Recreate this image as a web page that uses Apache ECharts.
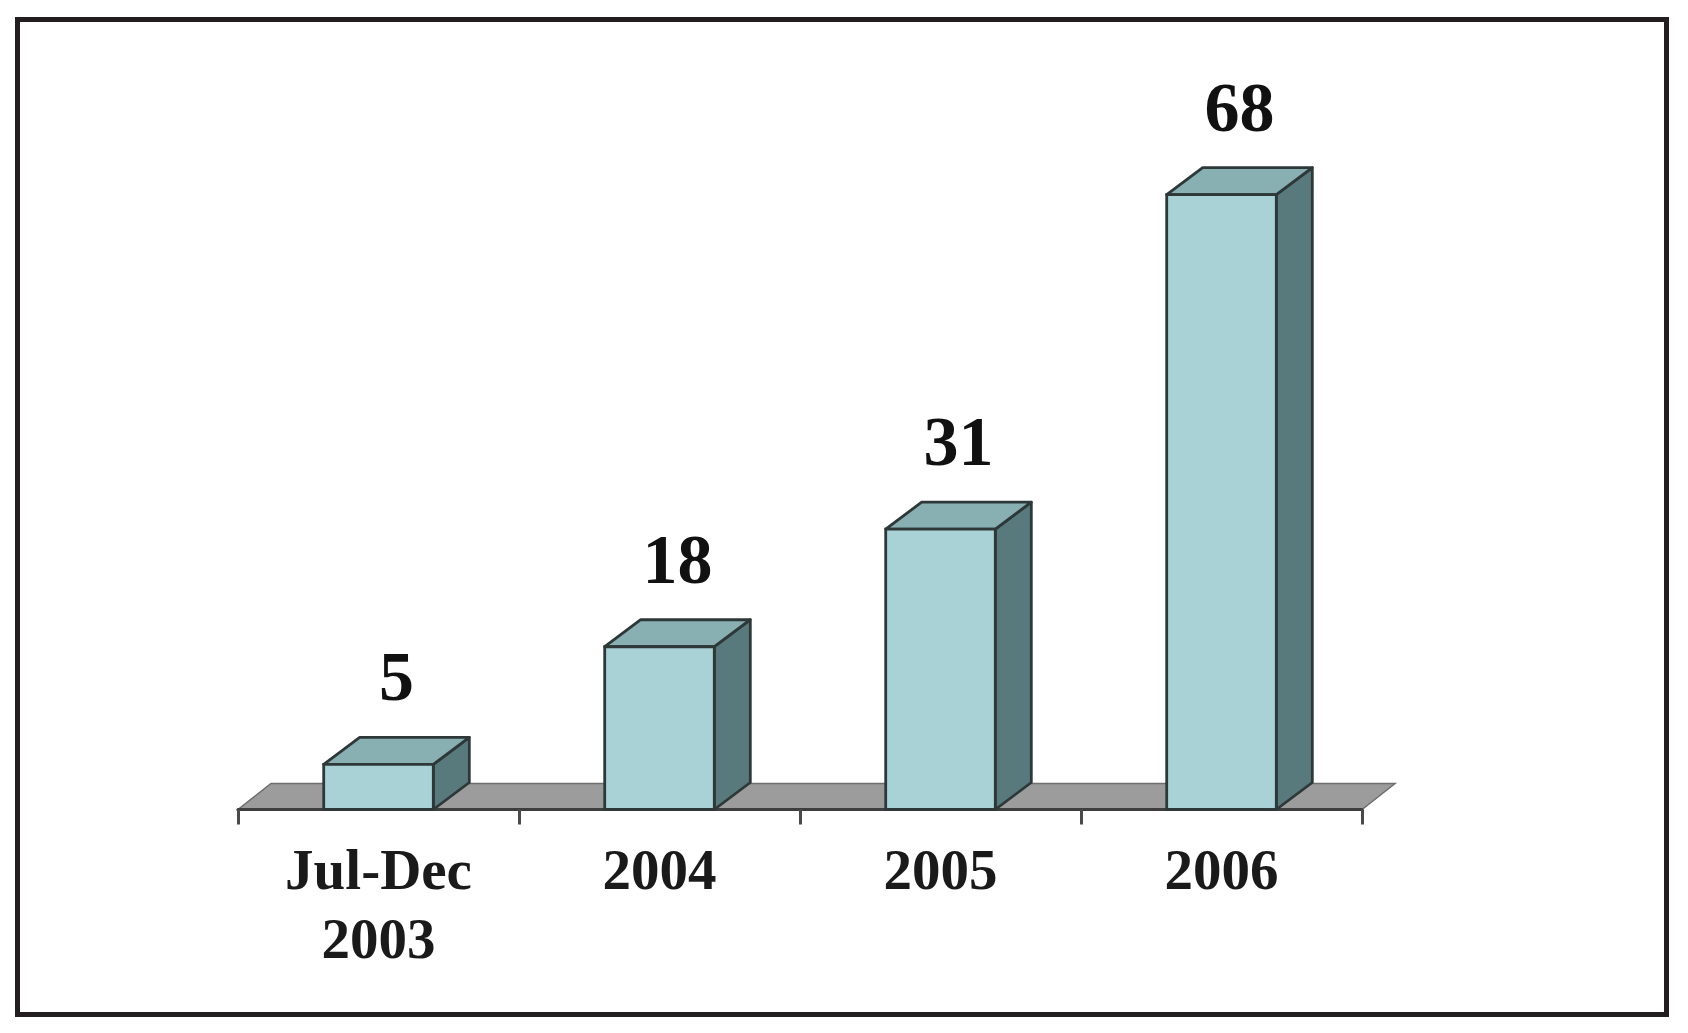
<!DOCTYPE html>
<html>
<head>
<meta charset="utf-8">
<style>
  html, body { margin: 0; padding: 0; background: #ffffff; }
  #chart { width: 1688px; height: 1033px; }
</style>
<script src="https://cdn.jsdelivr.net/npm/echarts@6/dist/echarts.min.js"></script>
</head>
<body>
<div id="chart"></div>
<script>
// ---- Data ----
const categories = ['Jul-Dec\n2003', '2004', '2005', '2006'];
const values = [5, 18, 31, 68];

// ---- Style constants ----
const FRONT = '#a8d2d6';
const TOP = '#88b0b3';
const SIDE = '#587a7d';
const EDGE = '#2e3838';
const FLOOR = '#9c9c9c';
const DEPTH_X = 36, DEPTH_Y = 27;
const FLOOR_DX = 33, FLOOR_DY = 26;

const chart = echarts.init(document.getElementById('chart'), null, { renderer: 'canvas' });

function renderFloor(params, api) {
  const cs = params.coordSys;
  const y0 = api.coord([0, 0])[1];
  const xl = cs.x, xr = cs.x + cs.width;
  return {
    type: 'polygon',
    shape: { points: [[xl, y0], [xr, y0], [xr + FLOOR_DX, y0 - FLOOR_DY], [xl + FLOOR_DX, y0 - FLOOR_DY]] },
    style: { fill: FLOOR, stroke: '#6e6e6e', lineWidth: 1.5 },
    z2: 0
  };
}

function renderBar(params, api) {
  const idx = api.value(0);
  const v = api.value(1);
  const base = api.coord([idx, 0]);
  const top = api.coord([idx, v]);
  const w = api.size([1, 0])[0] * 0.39;
  const x0 = base[0] - w / 2, x1 = base[0] + w / 2;
  const yb = base[1], yt = top[1];
  return {
    type: 'group',
    children: [
      { type: 'polygon',
        shape: { points: [[x1, yb], [x1 + DEPTH_X, yb - DEPTH_Y], [x1 + DEPTH_X, yt - DEPTH_Y], [x1, yt]] },
        style: { fill: SIDE, stroke: EDGE, lineWidth: 2.8, lineJoin: 'round' } },
      { type: 'polygon',
        shape: { points: [[x0, yt], [x1, yt], [x1 + DEPTH_X, yt - DEPTH_Y], [x0 + DEPTH_X, yt - DEPTH_Y]] },
        style: { fill: TOP, stroke: EDGE, lineWidth: 2.8, lineJoin: 'round' } },
      { type: 'rect',
        shape: { x: x0, y: yt, width: w, height: yb - yt },
        style: { fill: FRONT, stroke: EDGE, lineWidth: 2.8 } },
      { type: 'text',
        style: {
          text: String(v),
          x: base[0] + 18,
          y: yt - DEPTH_Y - 55,
          align: 'center',
          verticalAlign: 'middle',
          font: 'bold 70px "Liberation Serif", "Times New Roman", serif',
          fill: '#111111'
        } }
    ]
  };
}

chart.setOption({
  backgroundColor: '#ffffff',
  animation: false,
  graphic: [{
    type: 'rect',
    shape: { x: 17.5, y: 19.5, width: 1649, height: 995 },
    style: { fill: 'none', stroke: '#231f20', lineWidth: 5 },
    silent: true
  }],
  grid: { left: 238, right: 326, top: 176.5, bottom: 223.5 },
  xAxis: {
    type: 'category',
    data: categories,
    boundaryGap: true,
    axisLine: { show: true, lineStyle: { color: '#3e3e3e', width: 3 } },
    axisTick: { show: true, length: 15, lineStyle: { color: '#4a4a4a', width: 3 } },
    axisLabel: {
      interval: 0,
      margin: 30,
      fontSize: 57,
      lineHeight: 69,
      fontWeight: 'bold',
      fontFamily: '"Liberation Serif", "Times New Roman", serif',
      color: '#1a1a1a'
    },
    z: 3
  },
  yAxis: {
    type: 'value',
    min: 0,
    max: 70,
    show: false,
    splitLine: { show: false }
  },
  series: [
    {
      type: 'custom',
      renderItem: renderFloor,
      data: [[0, 0]],
      z: 1,
      silent: true
    },
    {
      type: 'custom',
      renderItem: renderBar,
      data: values.map((v, i) => [i, v]),
      z: 5,
      silent: true
    }
  ]
});
</script>
</body>
</html>
